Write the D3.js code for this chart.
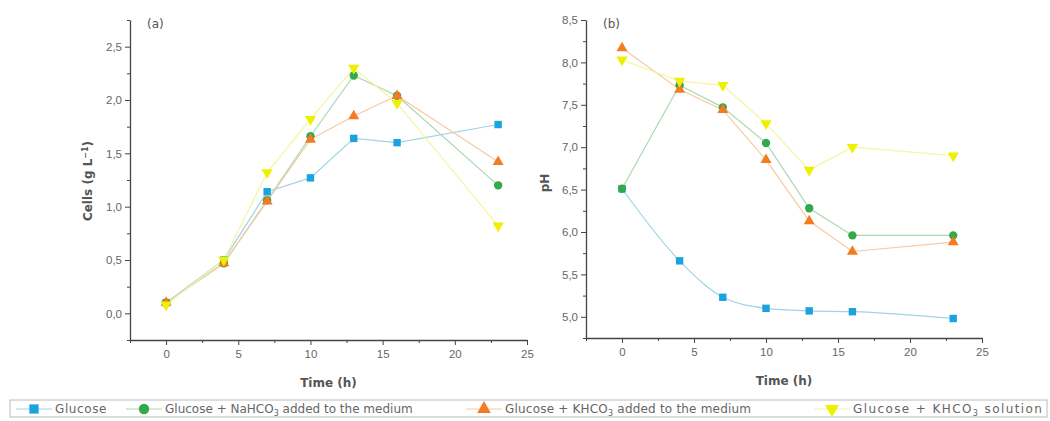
<!DOCTYPE html>
<html>
<head>
<meta charset="utf-8">
<script src="https://cdn.jsdelivr.net/npm/d3@7"></script>
<style>
	body { margin: 0; background: #fff; }
	svg { font-family: "DejaVu Sans", sans-serif; }
	.tick text { fill: #666; font-size: 11.5px; }
	.axis path, .axis line { stroke: #444; }
</style>
</head>
<body>
<svg id="chart" width="1050" height="421"></svg>
<script>
"use strict";

// sampling times (h)
var times = [0, 4, 7, 10, 13, 16, 23];

// panel (a) cells, g/L
var cellsGlucose = [0.10, 0.50, 1.14, 1.27, 1.64, 1.60, 1.77];
var cellsNa = [0.10, 0.47, 1.06, 1.66, 2.23, 2.04, 1.20];
var cellsKMedium = [0.10, 0.47, 1.05, 1.63, 1.85, 2.04, 1.42];
var cellsKSolution = [0.08, 0.50, 1.32, 1.82, 2.30, 1.97, 0.82];

// panel (b) pH
var phGlucose = [6.51, 5.66, 5.23, 5.10, 5.07, 5.06, 4.98];
var phNa = [6.51, 7.73, 7.47, 7.05, 6.28, 5.96, 5.96];
var phKMedium = [8.17, 7.68, 7.44, 6.85, 6.13, 5.77, 5.88];
var phKSolution = [8.03, 7.78, 7.73, 7.28, 6.73, 7.00, 6.90];

var seriesNames = [
	'Glucose',
	'Glucose + NaHCO\u2083 added to the medium',
	'Glucose + KHCO\u2083 added to the medium',
	'Glucose + KHCO\u2083 solution'
];
var seriesColors = ['#1aa3dd', '#35a84a', '#f47b20', '#eef000'];
var lineColors = ['#9fd3ea', '#a9d9b0', '#f8c9a3', '#f5f5a0'];
var seriesShapes = [d3.symbolSquare, d3.symbolCircle, d3.symbolTriangle, 'down'];

var xTicks = [0, 5, 10, 15, 20, 25];
var cellsTicks = [0, 0.5, 1.0, 1.5, 2.0, 2.5];
var phTicks = [5.0, 5.5, 6.0, 6.5, 7.0, 7.5, 8.0, 8.5];

var svg = d3.select('#chart');
var fmt = function(v) { return d3.format('.1f')(v).replace('.', ','); };

function marker(g, shape, color, size) {
	if (shape === 'down') {
		g.append('path')
			.attr('d', d3.symbol().type(d3.symbolTriangle).size(size)())
			.attr('transform', 'rotate(180)')
			.attr('fill', color);
	} else {
		g.append('path')
			.attr('d', d3.symbol().type(shape).size(shape === d3.symbolTriangle ? size * 0.95 : size)())
			.attr('fill', color);
	}
}

function panel(opts) {
	var x = d3.scaleLinear().domain([-2.5, 25]).range([opts.left, opts.right]);
	var y = d3.scaleLinear().domain(opts.yDomain).range([opts.bottom, opts.top]);

	//minor ticks first, major on top
	var xMinor = d3.range(-2.5, 25.1, 2.5).filter(function(v) { return v % 5 !== 0; });
	svg.append('g').attr('class', 'axis')
		.attr('transform', 'translate(0,' + opts.bottom + ')')
		.call(d3.axisBottom(x).tickValues(xMinor).tickSize(3).tickFormat(''))
		.select('.domain').remove();
	svg.append('g').attr('class', 'axis')
		.attr('transform', 'translate(0,' + opts.bottom + ')')
		.call(d3.axisBottom(x).tickValues(xTicks).tickSize(5).tickSizeOuter(0).tickPadding(5).tickFormat(d3.format('d')));

	svg.append('g').attr('class', 'axis')
		.attr('transform', 'translate(' + opts.left + ',0)')
		.call(d3.axisLeft(y).tickValues(opts.yMinor).tickSize(3).tickFormat(''))
		.select('.domain').remove();
	svg.append('g').attr('class', 'axis')
		.attr('transform', 'translate(' + opts.left + ',0)')
		.call(d3.axisLeft(y).tickValues(opts.yTicks).tickSize(5).tickSizeOuter(0).tickPadding(3).tickFormat(fmt));

	svg.selectAll('.axis path.domain').attr('stroke-width', 1.3);

	//axis titles
	svg.append('text')
		.attr('x', (x(-2.5) + x(25)) / 2)
		.attr('y', opts.bottom + 47)
		.attr('text-anchor', 'middle')
		.attr('font-size', 12)
		.attr('font-weight', 'bold')
		.attr('fill', '#555')
		.text('Time (h)');

	var yt = svg.append('text')
		.attr('transform', 'translate(' + (opts.left - opts.yTitleGap) + ',' + opts.yTitleMid + ') rotate(-90)')
		.attr('text-anchor', 'middle')
		.attr('font-size', 12)
		.attr('font-weight', 'bold')
		.attr('fill', '#555');
	yt.append('tspan').text(opts.yLabel);
	if (opts.sup) {
		yt.append('tspan').attr('dy', -4).attr('font-size', 8).text(opts.sup);
		yt.append('tspan').attr('dy', 4).text(')');
	}

	svg.append('text')
		.attr('x', opts.left + 17)
		.attr('y', opts.top + 8)
		.attr('font-size', 12)
		.attr('fill', '#555')
		.text(opts.tag);

	//series
	opts.series.forEach(function(values, i) {
		var pts = times.map(function(t, k) { return [t, values[k]]; });
		var line = d3.line()
			.x(function(d) { return x(d[0]); })
			.y(function(d) { return y(d[1]); })
			.curve(opts.smooth && i === 0 ? d3.curveMonotoneX : d3.curveLinear);
		svg.append('path')
			.attr('d', line(pts))
			.attr('fill', 'none')
			.attr('stroke', lineColors[i])
			.attr('stroke-width', 1.2);
	});
	opts.series.forEach(function(values, i) {
		times.forEach(function(t, k) {
			var g = svg.append('g')
				.attr('transform', 'translate(' + x(t) + ',' + y(values[k]) + ')');
			marker(g, seriesShapes[i], seriesColors[i], 55);
		});
	});
}

panel({
	left: 130, right: 527, top: 20, bottom: 340,
	yDomain: [-0.25, 2.75],
	yTicks: cellsTicks,
	yMinor: d3.range(-0.25, 2.76, 0.25).filter(function(v) { return Math.abs(v * 2 - Math.round(v * 2)) > 0.01; }),
	yLabel: 'Cells (g L',
	sup: '\u22121',
	yTitleGap: 38,
	yTitleMid: 181,
	tag: '(a)',
	series: [cellsGlucose, cellsNa, cellsKMedium, cellsKSolution]
});

panel({
	left: 586, right: 982, top: 20, bottom: 338,
	yDomain: [4.75, 8.5],
	yTicks: phTicks,
	yMinor: d3.range(4.75, 8.5, 0.5),
	yLabel: 'pH',
	yTitleGap: 37,
	yTitleMid: 183,
	tag: '(b)',
	smooth: true,
	series: [phGlucose, phNa, phKMedium, phKSolution]
});

//legend
var legend = svg.append('g');
legend.append('rect')
	.attr('x', 10).attr('y', 400).attr('width', 1037).attr('height', 17)
	.attr('fill', '#fff').attr('stroke', '#bbb').attr('stroke-width', 1);

var legendX = [34, 144, 484, 832];
var legendSpacing = [0.6, 0, 0.2, 1.4];
seriesNames.forEach(function(name, i) {
	var cx = legendX[i];
	var g = legend.append('g').attr('transform', 'translate(' + cx + ',409)');
	g.append('line').attr('x1', -18).attr('x2', 18).attr('stroke', lineColors[i]).attr('stroke-width', 1.2);
	marker(g, seriesShapes[i], seriesColors[i], 85);
	var t = legend.append('text')
		.attr('x', cx + 21)
		.attr('y', 413)
		.attr('font-size', 12)
		.attr('letter-spacing', legendSpacing[i])
		.attr('fill', '#666');
	var parts = name.split('\u2083');
	t.append('tspan').text(parts[0]);
	if (parts.length > 1) {
		t.append('tspan').attr('dy', 3).attr('font-size', 8).text('3');
		t.append('tspan').attr('dy', -3).text(parts[1]);
	}
});
</script>
</body>
</html>
